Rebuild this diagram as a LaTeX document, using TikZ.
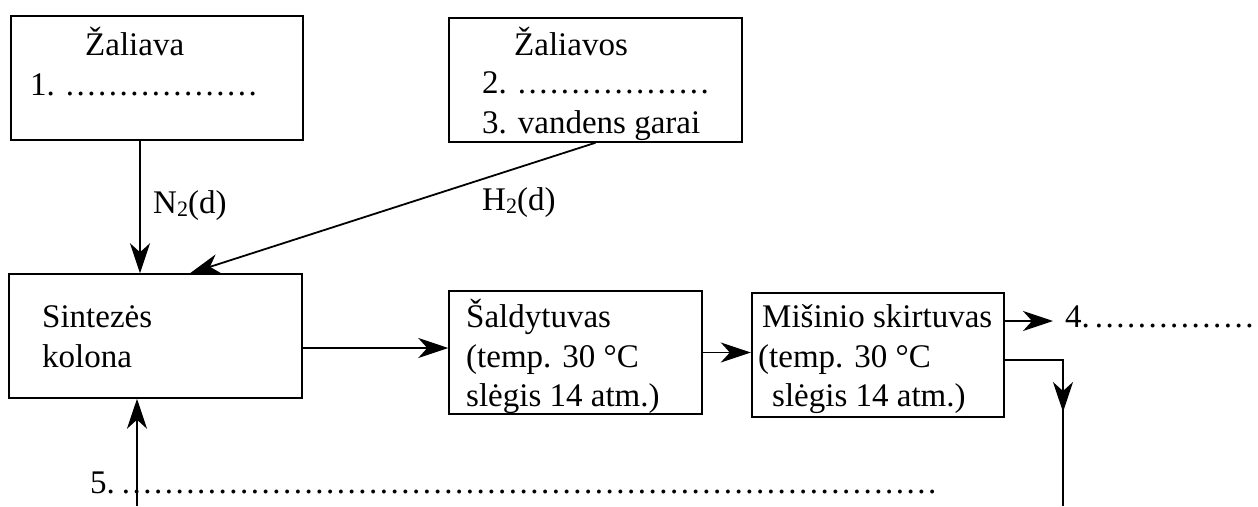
\documentclass[tikz,border=0pt]{standalone}
\usepackage{fontspec}
\setmainfont{Liberation Serif}
\usetikzlibrary{arrows.meta}
\newcommand{\sbt}[1]{\raisebox{-0.25ex}{\fontsize{22}{22}\selectfont #1}}
\newcommand{\dotrow}[1]{\foreach \k in {1,...,#1}{.\kern2.5pt}}
\tikzset{
  box/.style={draw, rectangle, line width=1.5pt, inner sep=0pt},
  txt/.style={anchor=base west, inner sep=0pt, font=\fontsize{33}{40}\selectfont},
  ln/.style={line width=1.8pt},
  arr/.style={line width=1.8pt, -{Stealth[length=30pt,width=20pt,inset=9pt]}},
}
\begin{document}
\begin{tikzpicture}[x=1pt,y=-1pt]
\useasboundingbox (0,0) rectangle (1258,506);
% boxes
\node[box, minimum width=292pt, minimum height=124pt] (b1) at (157,78) {};
\node[box, minimum width=293pt, minimum height=124pt] (b2) at (595.5,80) {};
\node[box, minimum width=293pt, minimum height=124pt] (sin) at (155.5,336) {};
\node[box, minimum width=253pt, minimum height=123pt] (sal) at (575.5,352.5) {};
\node[box, line width=2.4pt, minimum width=252pt, minimum height=124pt] (mis) at (878,355) {};
% texts
\node[txt] (t1a) at (85,55) {Žaliava};
\node[txt] (t1b) at (30,95) {1. \dotrow{18}};
\node[txt] (t2a) at (514,55) {Žaliavos};
\node[txt] (t2b) at (482,93) {2. \dotrow{18}};
\node[txt] (t2c) at (482,133) {3. vandens garai};
\node[txt] (tn) at (153,213) {N\sbt{2}(d)};
\node[txt] (th) at (482,210) {H\sbt{2}(d)};
\node[txt] (s1) at (42,327) {Sintezės};
\node[txt] (s2) at (42,367) {kolona};
\node[txt] (a1) at (466,327) {Šaldytuvas};
\node[txt] (a2) at (466,367) {(temp. 30 °C};
\node[txt] (a3) at (466,406) {slėgis 14 atm.)};
\node[txt] (m1) at (762,327) {Mišinio skirtuvas};
\node[txt] (m2) at (758,367) {(temp. 30 °C};
\node[txt] (m3) at (772,406) {slėgis 14 atm.)};
\node[txt] (p4) at (1065,327) {4.\kern5pt\dotrow{15}};
\node[txt] (p5) at (90,493) {5.\kern7pt\dotrow{76}};
% coordinates
\coordinate (c4) at (1053,321);
\coordinate (dcorner) at (1063,360);
\coordinate (dtip) at (1063,412);
\coordinate (dend) at (1063,506);
\coordinate (ubot) at (137,506);
% connectors
\draw[arr] ([xshift=-17pt]b1.south) -- ([xshift=-15.5pt]sin.north);
\draw[arr] (b2.south) -- ([xshift=34.5pt]sin.north);
\draw[arr] ([yshift=-12pt]sin.east) -- ([yshift=-12pt]sin.east -| sal.west);
\draw[arr] (sal.east) -- (sal.east -| mis.west);
\draw[arr] ([yshift=34pt]mis.east) -- (c4);
\draw[ln] ([yshift=-5pt]mis.east) -- (dcorner) -- (dend);
\draw[arr] (dcorner) -- (dtip);
\draw[arr] (ubot) -- ([xshift=-18.5pt]sin.south);
\end{tikzpicture}
\end{document}
